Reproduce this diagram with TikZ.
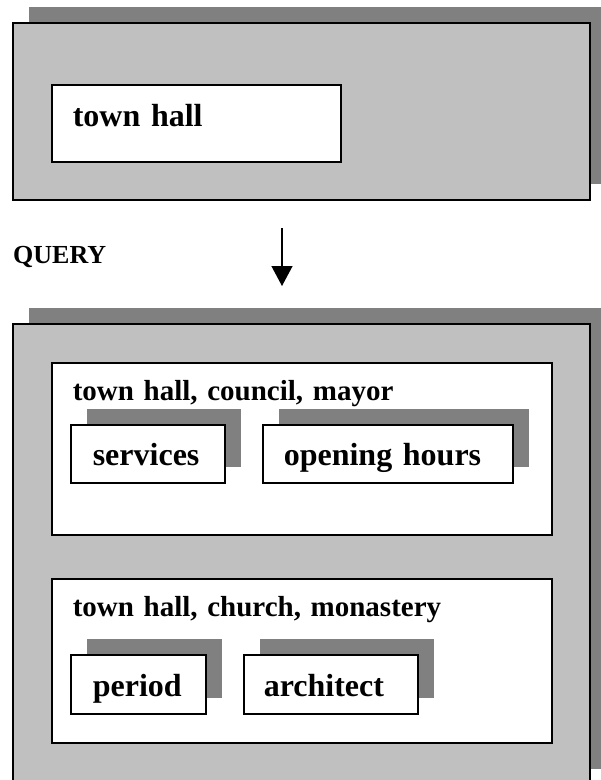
\documentclass[tikz,border=0pt]{standalone}
\usepackage{fontspec}
\setmainfont{Liberation Serif}
\usetikzlibrary{arrows.meta,shadows}
\definecolor{panelgray}{HTML}{C0C0C0}
\definecolor{shadegray}{HTML}{808080}
\newcommand{\cardfont}{\bfseries\fontsize{32}{38}\selectfont}
\newcommand{\headfont}{\bfseries\fontsize{29}{35}\selectfont}
\newcommand{\tagfont}{\bfseries\fontsize{26}{31}\selectfont}

\begin{document}
\begin{tikzpicture}[x=1pt, y=-1pt, >={Triangle[length=20pt, width=21pt]},
  lifted/.style={drop shadow={shadow xshift=16pt, shadow yshift=16pt, fill=shadegray, opacity=1}},
  panel/.style={draw, line width=2pt, fill=panelgray, anchor=north west, inner sep=0pt},
  card/.style={draw, line width=1.6pt, fill=white, anchor=north west, inner ysep=0pt, align=left, font=\cardfont},
  group/.style={card, font=\headfont}]
  \useasboundingbox (0,0) rectangle (601,780);
  \clip (0,0) rectangle (601,780);
  % ---------------------------------------------------------------- what is typed in
  \node[panel, lifted, minimum width=577pt, minimum height=177pt] (typed) at (12,22) {};
  \node[card, inner xsep=21pt, text width=247pt, text height=42pt, text depth=35pt] (hall) at (51,84) {town hall};
  % ---------------------------------------------------------------- the query step
  \node[font=\tagfont, anchor=base west, inner sep=0pt] (asks) at (13,263) {QUERY};
  \coordinate (from) at (282,228);
  \coordinate (to) at (282,286);
  \draw[->, line width=1.3pt] (from) -- (to);
  % ---------------------------------------------------------------- what comes back, in two groups
  \node[panel, lifted, minimum width=577pt, minimum height=461pt] (found) at (12,323) {};
  \node[group, inner xsep=21pt, text width=458pt, text height=38pt, text depth=134pt] (civic) at (51,362)
    {town hall, council, mayor};
  \node[card, lifted, inner xsep=22pt, text width=110pt, text height=41pt, text depth=17pt] (services) at (70,424) {services};
  \node[card, lifted, inner xsep=21pt, text width=208pt, text height=41pt, text depth=17pt] (hours) at (262,424) {opening hours};
  \node[group, inner xsep=21pt, text width=458pt, text height=38pt, text depth=126pt] (heritage) at (51,578)
    {town hall, church, monastery};
  \node[card, lifted, inner xsep=22pt, text width=91pt, text height=42pt, text depth=17pt] (period) at (70,654) {period};
  \node[card, lifted, inner xsep=20pt, text width=134pt, text height=42pt, text depth=17pt] (architect) at (243,654) {architect};
\end{tikzpicture}
\end{document}
